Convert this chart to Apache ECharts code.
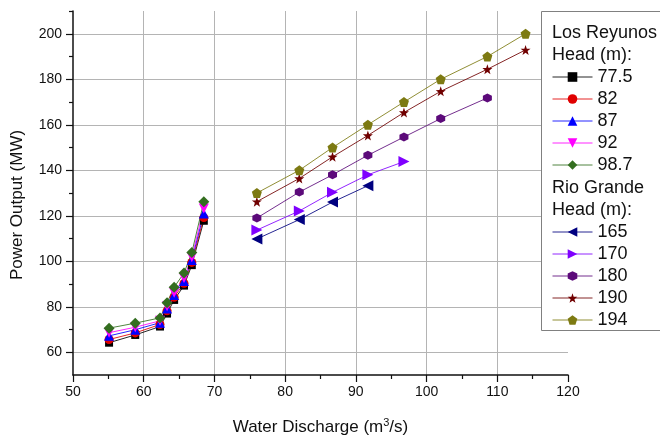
<!DOCTYPE html>
<html>
<head>
<meta charset="utf-8">
<script src="https://cdn.jsdelivr.net/npm/echarts@6/dist/echarts.min.js"></script>
<style>
  html, body { margin: 0; padding: 0; background: #fff; }
  #chart { width: 660px; height: 435px; }
</style>
</head>
<body>
<div id="chart"></div>
<script>
// Los Reyunos: discharge (m3/s) and power (MW) for each head
const reyunosDischarge = [55.1, 58.8, 62.3, 63.3, 64.3, 65.7, 66.8, 68.5];
const reyunos775 = [64.2, 67.6, 71.3, 77.0, 83.0, 89.3, 98.3, 117.8];
const reyunos82  = [65.6, 68.5, 72.2, 78.2, 84.2, 90.3, 99.5, 119.2];
const reyunos87  = [67.2, 69.9, 73.0, 79.2, 85.2, 91.3, 100.6, 121.0];
const reyunos92  = [68.6, 71.0, 73.8, 80.2, 86.2, 92.6, 101.8, 123.2];
const reyunos987 = [70.6, 72.8, 75.1, 81.8, 88.6, 94.8, 103.8, 126.1];

// Rio Grande: discharge (m3/s) and power (MW) for each head
const rioDischarge = [76, 82, 86.7, 91.7, 96.8, 102, 108.6, 114];
const rio165 = [109.8, 118.3, 126.0, 133.2];
const rio170 = [113.7, 122.1, 130.3, 138.0, 143.8];
const rio180 = [119.0, 130.4, 138.0, 146.6, 154.6, 162.7, 171.8];
const rio190 = [126.2, 136.4, 145.9, 155.3, 165.4, 174.7, 184.4, 192.9];
const rio194 = [130, 140, 150, 160, 170, 180, 190, 200];

// Axis tick values
const yMajorTicks = [60, 80, 100, 120, 140, 160, 180, 200];
const yMinorTicks = [70, 90, 110, 130, 150, 170, 190, 210];

const FONT = '"Liberation Sans", Arial, sans-serif';

const STAR = 'path://M0,-10L2.35,-3.24L9.51,-3.09L3.8,1.24L5.88,8.09L0,4L-5.88,8.09L-3.8,1.24L-9.51,-3.09L-2.35,-3.24Z';
const PENTAGON = 'path://M0,-10L9.51,-3.09L5.88,8.09L-5.88,8.09L-9.51,-3.09Z';
const HEXAGON = 'path://M0,-10L8.66,-5L8.66,5L0,10L-8.66,5L-8.66,-5Z';

function pairs(xs, ys) {
  return ys.map((y, i) => [xs[i], y]);
}

function lineSeries(name, xs, ys, color, symbol, size, rotate) {
  return {
    name: name,
    type: 'line',
    data: pairs(xs, ys),
    symbol: symbol,
    symbolSize: size,
    symbolRotate: rotate || 0,
    showSymbol: true,
    color: color,
    lineStyle: { color: color, width: 1, opacity: 0.85 },
    itemStyle: { color: color, borderWidth: 0 },
    emphasis: { disabled: true },
    animation: false
  };
}

const series = [
  lineSeries('77.5', reyunosDischarge, reyunos775, '#000000', 'rect', 8),
  lineSeries('82', reyunosDischarge, reyunos82, '#e00000', 'circle', 9),
  lineSeries('87', reyunosDischarge, reyunos87, '#0000ff', 'triangle', 10),
  lineSeries('92', reyunosDischarge, reyunos92, '#ff00ff', 'triangle', 10, 180),
  lineSeries('98.7', reyunosDischarge, reyunos987, '#336e1f', 'diamond', 11),
  lineSeries('165', rioDischarge, rio165, '#000080', 'triangle', 11, 90),
  lineSeries('170', rioDischarge, rio170, '#7f00ff', 'triangle', 11, -90),
  lineSeries('180', rioDischarge, rio180, '#5c0a7a', HEXAGON, 9),
  lineSeries('190', rioDischarge, rio190, '#700000', STAR, 10),
  lineSeries('194', rioDischarge, rio194, '#7d7a12', PENTAGON, 10)
];

const legendCommon = {
  orient: 'vertical',
  left: 552,
  itemWidth: 40,
  itemHeight: 12,
  itemGap: 4,
  padding: 0,
  selectedMode: false,
  lineStyle: { width: 1 },
  textStyle: { fontFamily: FONT, fontSize: 18, color: '#111' },
  z: 5
};

const chart = echarts.init(document.getElementById('chart'), null, { renderer: 'canvas' });

chart.setOption({
  backgroundColor: '#ffffff',
  animation: false,
  textStyle: { fontFamily: FONT },
  grid: { left: 73, right: 92, top: 11, bottom: 60, outerBoundsMode: 'none', containLabel: false },
  xAxis: {
    type: 'value',
    min: 50,
    max: 120,
    interval: 10,
    name: '{t|Water Discharge (m}{s|3}{t|/s)}',
    nameLocation: 'middle',
    nameGap: 42,
    nameTextStyle: {
      rich: {
        t: { fontFamily: FONT, fontSize: 17, color: '#111' },
        s: { fontFamily: FONT, fontSize: 11, color: '#111', padding: [0, 0, 9, 0] }
      }
    },
    axisLine: { show: true, lineStyle: { color: '#111', width: 1.5 } },
    axisTick: { show: true, inside: false, length: 7, lineStyle: { color: '#111', width: 1.2 } },
    minorTick: { show: true, splitNumber: 2, length: 4, lineStyle: { color: '#111', width: 1.2 } },
    axisLabel: { fontFamily: FONT, fontSize: 14, color: '#111', margin: 10 },
    splitLine: { show: true, showMinLine: false, showMaxLine: false, lineStyle: { color: '#b4b4b4', width: 1 } }
  },
  yAxis: [
    {
      type: 'value',
      min: 50,
      max: 210,
      interval: 10,
      name: 'Power Output (MW)',
      nameLocation: 'middle',
      nameGap: 47,
      nameTextStyle: { fontFamily: FONT, fontSize: 17, color: '#111', padding: [0, 24, 0, 0] },
      axisLine: { show: true, lineStyle: { color: '#111', width: 1.5 } },
      axisTick: { show: true, inside: false, length: 7, customValues: yMajorTicks, lineStyle: { color: '#111', width: 1.2 } },
      axisLabel: { fontFamily: FONT, fontSize: 14, color: '#111', margin: 11, customValues: yMajorTicks },
      splitLine: { show: true, lineStyle: { color: '#b4b4b4', width: 1 } }
    },
    {
      type: 'value',
      min: 50,
      max: 210,
      interval: 10,
      position: 'left',
      axisLine: { show: false },
      axisTick: { show: true, inside: false, length: 4, customValues: yMinorTicks, lineStyle: { color: '#111', width: 1.2 } },
      axisLabel: { show: false },
      splitLine: { show: false }
    }
  ],
  legend: [
    Object.assign({}, legendCommon, {
      top: 68,
      data: ['77.5', '82', '87', '92', '98.7']
    }),
    Object.assign({}, legendCommon, {
      top: 223,
      data: ['165', '170', '180', '190', '194']
    })
  ],
  graphic: [
    {
      type: 'rect',
      z: 3,
      shape: { x: 541.5, y: 11.5, width: 160, height: 319 },
      style: { fill: '#ffffff', stroke: '#808080', lineWidth: 1 }
    },
    {
      type: 'text', z: 6, left: 552, top: 24,
      style: { text: 'Los Reyunos', font: '18px ' + FONT, fill: '#111' }
    },
    {
      type: 'text', z: 6, left: 552, top: 46,
      style: { text: 'Head (m):', font: '18px ' + FONT, fill: '#111' }
    },
    {
      type: 'text', z: 6, left: 552, top: 179,
      style: { text: 'Rio Grande', font: '18px ' + FONT, fill: '#111' }
    },
    {
      type: 'text', z: 6, left: 552, top: 201,
      style: { text: 'Head (m):', font: '18px ' + FONT, fill: '#111' }
    }
  ],
  series: series
});
</script>
</body>
</html>
